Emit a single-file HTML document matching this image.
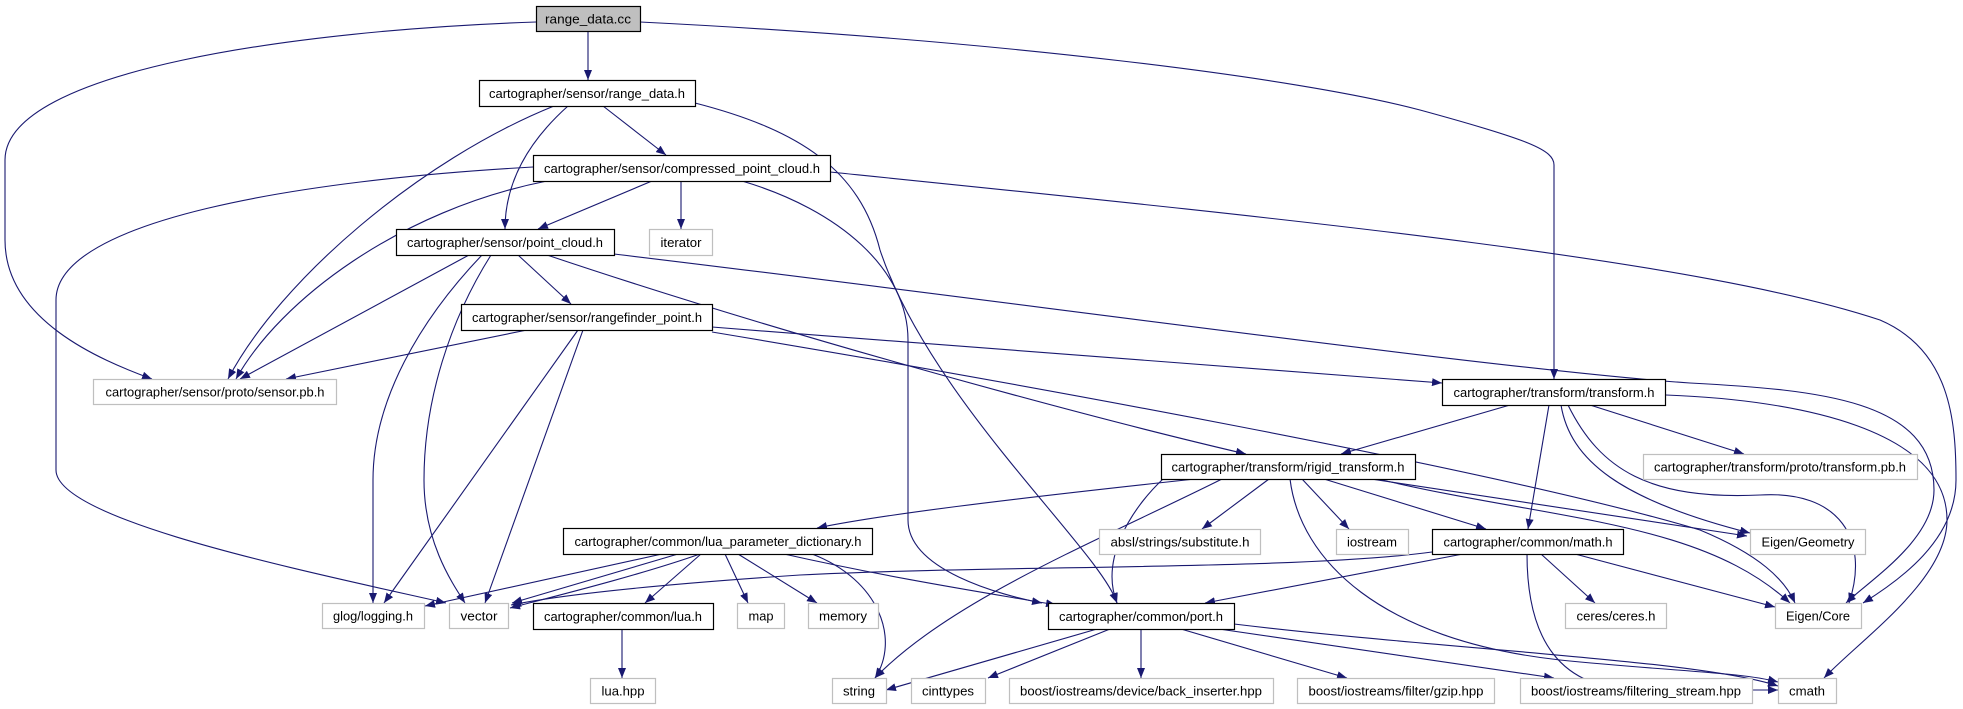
<!DOCTYPE html>
<html><head><meta charset="utf-8"><style>
html,body{margin:0;padding:0;background:#fff;}
svg{display:block;}
text{font-family:"Liberation Sans",sans-serif;font-size:13px;fill:#000;}
</style></head><body>
<svg width="1963" height="709" viewBox="0 0 1963 709" xmlns="http://www.w3.org/2000/svg">
<defs>
<marker id="a" markerUnits="userSpaceOnUse" markerWidth="11" markerHeight="8" refX="10" refY="4" orient="auto">
<path d="M0,0 L10,4 L0,8 z" fill="#191970"/>
</marker>
</defs>
<g fill="none" stroke="#191970" stroke-width="1.1" marker-end="url(#a)">
<path d="M588,31 L588,80"/>
<path d="M536,22 C300,30 5,70 5,160 L5,240 C5,320 100,360 152,379"/>
<path d="M640,22 C1000,40 1300,78 1420,110 C1530,140 1554,150 1554,165 L1554,379"/>
<path d="M603,106 L666,155"/>
<path d="M568,106 C530,140 505,180 505,229"/>
<path d="M554,106 C420,160 280,280 228,379"/>
<path d="M695,103 C800,130 860,170 880,250 C930,400 1100,550 1117,603"/>
<path d="M742,181 C840,210 908,270 908,340 L908,520 C908,570 1000,595 1042,603"/>
<path d="M547,181 C400,210 280,300 236,379"/>
<path d="M533,167 C300,180 56,220 56,300 L56,470 C56,520 300,570 446,603"/>
<path d="M652,181 L538,229"/>
<path d="M681,181 L681,229"/>
<path d="M830,172 C1300,220 1700,260 1880,320 C1950,350 1956,420 1956,480 C1956,540 1900,580 1863,603"/>
<path d="M518,255 L571,304"/>
<path d="M469,255 L240,379"/>
<path d="M482,255 C420,320 373,400 373,480 L373,603"/>
<path d="M491,255 C450,320 424,400 424,480 C424,540 450,580 465,603"/>
<path d="M547,255 C800,340 1100,420 1246,454"/>
<path d="M614,254 C1000,300 1500,370 1690,383 C1820,390 1934,400 1934,490 C1934,540 1870,580 1846,603"/>
<path d="M527,330 L286,379"/>
<path d="M578,330 L384,603"/>
<path d="M583,330 L485,603"/>
<path d="M712,327 C1000,350 1300,370 1442,383"/>
<path d="M712,332 C1000,380 1500,470 1700,530 C1760,555 1785,580 1795,603"/>
<path d="M1510,405 L1341,454"/>
<path d="M1549,405 L1528,529"/>
<path d="M1590,405 L1744,454"/>
<path d="M1561,405 C1570,460 1620,500 1750,533"/>
<path d="M1568,405 C1600,470 1650,500 1760,495 C1840,490 1870,540 1849,603"/>
<path d="M1666,395 C1800,400 1947,430 1947,520 C1947,580 1860,640 1824,678"/>
<path d="M1195,479 C1000,500 880,515 817,528"/>
<path d="M1163,479 C1130,510 1100,560 1117,603"/>
<path d="M1222,479 C1100,540 950,600 875,678"/>
<path d="M1269,479 L1202,529"/>
<path d="M1302,479 L1349,529"/>
<path d="M1324,479 L1486,529"/>
<path d="M1290,479 C1300,560 1380,640 1560,660 C1680,672 1740,672 1778,682"/>
<path d="M1371,479 L1747,536"/>
<path d="M1378,479 C1550,520 1700,520 1790,603"/>
<path d="M1432,552 C1300,570 1000,565 800,575 C650,585 560,595 511,605"/>
<path d="M1463,554 L1205,603"/>
<path d="M1541,554 L1595,603"/>
<path d="M1575,554 L1775,607"/>
<path d="M1527,554 C1527,640 1560,690 1640,690 L1778,690"/>
<path d="M662,554 L425,606"/>
<path d="M678,554 L512,603"/>
<path d="M700,554 C640,575 560,595 510,608"/>
<path d="M701,554 L645,603"/>
<path d="M725,554 L748,603"/>
<path d="M738,554 L817,603"/>
<path d="M812,554 C880,580 900,640 875,678"/>
<path d="M784,554 C900,580 1000,595 1056,605"/>
<path d="M622,629 L622,678"/>
<path d="M1097,629 L886,690"/>
<path d="M1110,629 L988,678"/>
<path d="M1141,629 L1141,678"/>
<path d="M1181,629 L1347,678"/>
<path d="M1219,629 L1554,678"/>
<path d="M1234,624 C1450,650 1700,660 1778,686"/>
</g>
<g stroke-width="1.2">
<rect x="536.5" y="6.5" width="104" height="25" fill="#bfbfbf" stroke="#000"/>
<rect x="479.5" y="80.5" width="216" height="26" fill="#fff" stroke="#000"/>
<rect x="533.5" y="155.5" width="297" height="26" fill="#fff" stroke="#000"/>
<rect x="396.5" y="229.5" width="218" height="26" fill="#fff" stroke="#000"/>
<rect x="649.5" y="229.5" width="63" height="26" fill="#fff" stroke="#bfbfbf"/>
<rect x="461.5" y="304.5" width="251" height="26" fill="#fff" stroke="#000"/>
<rect x="93.5" y="379.5" width="243" height="25" fill="#fff" stroke="#bfbfbf"/>
<rect x="1442.5" y="379.5" width="223" height="26" fill="#fff" stroke="#000"/>
<rect x="1161.5" y="454.5" width="254" height="25" fill="#fff" stroke="#000"/>
<rect x="1643.5" y="454.5" width="274" height="25" fill="#fff" stroke="#bfbfbf"/>
<rect x="563.5" y="528.5" width="309" height="26" fill="#fff" stroke="#000"/>
<rect x="1099.5" y="529.5" width="161" height="25" fill="#fff" stroke="#bfbfbf"/>
<rect x="1336.5" y="529.5" width="72" height="25" fill="#fff" stroke="#bfbfbf"/>
<rect x="1432.5" y="529.5" width="191" height="25" fill="#fff" stroke="#000"/>
<rect x="1750.5" y="529.5" width="115" height="25" fill="#fff" stroke="#bfbfbf"/>
<rect x="322.5" y="603.5" width="102" height="25" fill="#fff" stroke="#bfbfbf"/>
<rect x="449.5" y="603.5" width="59" height="25" fill="#fff" stroke="#bfbfbf"/>
<rect x="533.5" y="603.5" width="180" height="26" fill="#fff" stroke="#000"/>
<rect x="737.5" y="603.5" width="47" height="25" fill="#fff" stroke="#bfbfbf"/>
<rect x="808.5" y="603.5" width="70" height="25" fill="#fff" stroke="#bfbfbf"/>
<rect x="1048.5" y="603.5" width="186" height="26" fill="#fff" stroke="#000"/>
<rect x="1565.5" y="603.5" width="101" height="25" fill="#fff" stroke="#bfbfbf"/>
<rect x="1775.5" y="603.5" width="86" height="25" fill="#fff" stroke="#bfbfbf"/>
<rect x="590.5" y="678.5" width="65" height="25" fill="#fff" stroke="#bfbfbf"/>
<rect x="832.5" y="678.5" width="54" height="25" fill="#fff" stroke="#bfbfbf"/>
<rect x="911.5" y="678.5" width="74" height="25" fill="#fff" stroke="#bfbfbf"/>
<rect x="1009.5" y="678.5" width="264" height="25" fill="#fff" stroke="#bfbfbf"/>
<rect x="1297.5" y="678.5" width="197" height="25" fill="#fff" stroke="#bfbfbf"/>
<rect x="1520.5" y="678.5" width="232" height="25" fill="#fff" stroke="#bfbfbf"/>
<rect x="1778.5" y="678.5" width="58" height="25" fill="#fff" stroke="#bfbfbf"/>
</g>
<g text-anchor="middle" lengthAdjust="spacingAndGlyphs">
<text x="588" y="23.5" textLength="86" lengthAdjust="spacingAndGlyphs">range_data.cc</text>
<text x="587" y="98" textLength="196" lengthAdjust="spacingAndGlyphs">cartographer/sensor/range_data.h</text>
<text x="682" y="173" textLength="276" lengthAdjust="spacingAndGlyphs">cartographer/sensor/compressed_point_cloud.h</text>
<text x="505" y="247" textLength="196" lengthAdjust="spacingAndGlyphs">cartographer/sensor/point_cloud.h</text>
<text x="681" y="247" textLength="41" lengthAdjust="spacingAndGlyphs">iterator</text>
<text x="587" y="322" textLength="230" lengthAdjust="spacingAndGlyphs">cartographer/sensor/rangefinder_point.h</text>
<text x="215" y="396.5" textLength="219" lengthAdjust="spacingAndGlyphs">cartographer/sensor/proto/sensor.pb.h</text>
<text x="1554" y="397" textLength="201" lengthAdjust="spacingAndGlyphs">cartographer/transform/transform.h</text>
<text x="1288" y="471.5" textLength="233" lengthAdjust="spacingAndGlyphs">cartographer/transform/rigid_transform.h</text>
<text x="1780" y="471.5" textLength="252" lengthAdjust="spacingAndGlyphs">cartographer/transform/proto/transform.pb.h</text>
<text x="718" y="546" textLength="287" lengthAdjust="spacingAndGlyphs">cartographer/common/lua_parameter_dictionary.h</text>
<text x="1180" y="546.5" textLength="139" lengthAdjust="spacingAndGlyphs">absl/strings/substitute.h</text>
<text x="1372" y="546.5" textLength="50" lengthAdjust="spacingAndGlyphs">iostream</text>
<text x="1528" y="546.5" textLength="169" lengthAdjust="spacingAndGlyphs">cartographer/common/math.h</text>
<text x="1808" y="546.5" textLength="93" lengthAdjust="spacingAndGlyphs">Eigen/Geometry</text>
<text x="373" y="620.5" textLength="80" lengthAdjust="spacingAndGlyphs">glog/logging.h</text>
<text x="479" y="620.5" textLength="37" lengthAdjust="spacingAndGlyphs">vector</text>
<text x="623" y="621" textLength="158" lengthAdjust="spacingAndGlyphs">cartographer/common/lua.h</text>
<text x="761" y="620.5" textLength="25" lengthAdjust="spacingAndGlyphs">map</text>
<text x="843" y="620.5" textLength="48" lengthAdjust="spacingAndGlyphs">memory</text>
<text x="1141" y="621" textLength="164" lengthAdjust="spacingAndGlyphs">cartographer/common/port.h</text>
<text x="1616" y="620.5" textLength="79" lengthAdjust="spacingAndGlyphs">ceres/ceres.h</text>
<text x="1818" y="620.5" textLength="64" lengthAdjust="spacingAndGlyphs">Eigen/Core</text>
<text x="623" y="695.5" textLength="43" lengthAdjust="spacingAndGlyphs">lua.hpp</text>
<text x="859" y="695.5" textLength="32" lengthAdjust="spacingAndGlyphs">string</text>
<text x="948" y="695.5" textLength="52" lengthAdjust="spacingAndGlyphs">cinttypes</text>
<text x="1141" y="695.5" textLength="242" lengthAdjust="spacingAndGlyphs">boost/iostreams/device/back_inserter.hpp</text>
<text x="1396" y="695.5" textLength="175" lengthAdjust="spacingAndGlyphs">boost/iostreams/filter/gzip.hpp</text>
<text x="1636" y="695.5" textLength="210" lengthAdjust="spacingAndGlyphs">boost/iostreams/filtering_stream.hpp</text>
<text x="1807" y="695.5" textLength="36" lengthAdjust="spacingAndGlyphs">cmath</text>
</g>
</svg>
</body></html>
